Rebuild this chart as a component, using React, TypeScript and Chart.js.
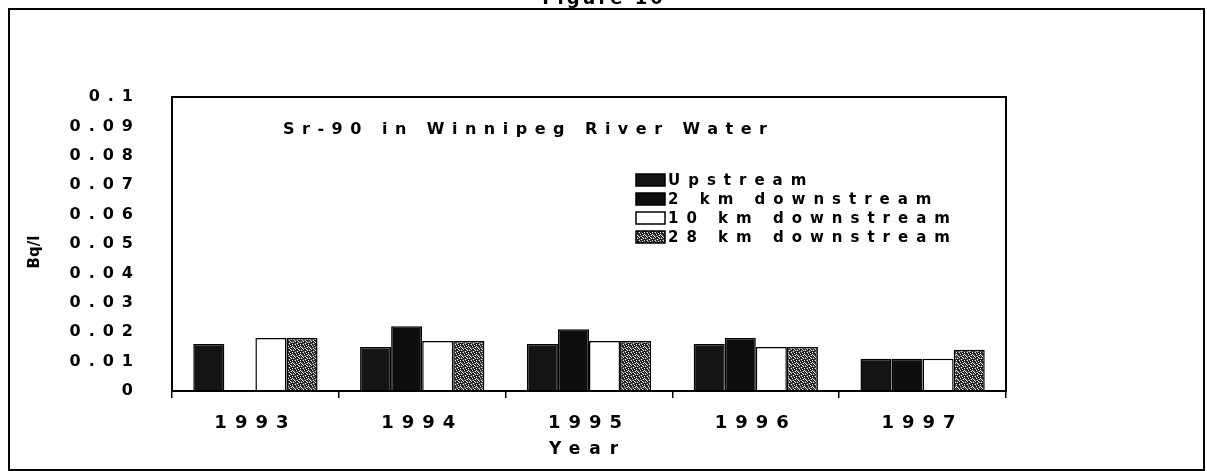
import React, { useEffect, useRef } from 'react';
import { Chart, registerables } from 'chart.js';

Chart.register(...registerables);

const figureLabel = 'Figure 10';
const chartTitle = 'Sr-90 in Winnipeg River Water';
const xAxisTitle = 'Year';
const yAxisTitle = 'Bq/l';
const years = ['1993', '1994', '1995', '1996', '1997'];
const seriesNames = ['Upstream', '2 km downstream', '10 km downstream', '28 km downstream'];
const upstream = [0.016, 0.015, 0.016, 0.016, 0.011];
const km2 = [null, 0.022, 0.021, 0.018, 0.011];
const km10 = [0.018, 0.017, 0.017, 0.015, 0.011];
const km28 = [0.018, 0.017, 0.017, 0.015, 0.014];
const yTickLabels = ['0', '0.01', '0.02', '0.03', '0.04', '0.05', '0.06', '0.07', '0.08', '0.09', '0.1'];

const FONT = '"DejaVu Sans", sans-serif';

function makeSpeckle(): CanvasPattern | string {
  const tile = [
    '21220210',
    '12021221',
    '02210122',
    '21102012',
    '10221201',
    '22012120',
    '21201012',
    '10122221',
  ];
  const colors = ['#e8e8e8', '#5a5a5a', '#1a1a1a'];
  const c = document.createElement('canvas');
  c.width = 8;
  c.height = 8;
  const g = c.getContext('2d');
  if (!g) return '#666';
  for (let y = 0; y < 8; y++) {
    for (let x = 0; x < 8; x++) {
      g.fillStyle = colors[Number(tile[y][x])];
      g.fillRect(x, y, 1, 1);
    }
  }
  return g.createPattern(c, 'repeat') || '#666';
}

export default function App() {
  const ref = useRef<HTMLCanvasElement | null>(null);

  useEffect(() => {
    if (!ref.current) return;
    const speckle = makeSpeckle();

    const decor = {
      id: 'decor',
      beforeDraw(chart: any) {
        chart.ctx.letterSpacing = '8px';
      },
      afterDraw(chart: any) {
        const { ctx, chartArea: a } = chart;
        ctx.save();
        ctx.letterSpacing = '0px';
        ctx.strokeStyle = '#000';
        ctx.lineWidth = 2;
        ctx.strokeRect(a.left, a.top, a.right - a.left, a.bottom - a.top);
        ctx.strokeRect(9, 9, 1195, 461);

        ctx.fillStyle = '#000';
        // figure label (clipped at top)
        ctx.font = `bold 18px ${FONT}`;
        ctx.textAlign = 'center';
        ctx.textBaseline = 'alphabetic';
        ctx.letterSpacing = '3px';
        ctx.fillText(figureLabel, 604, 4);

        // chart title
        ctx.font = `bold 16px ${FONT}`;
        ctx.letterSpacing = '7.5px';
        ctx.textAlign = 'left';
        ctx.textBaseline = 'middle';
        ctx.fillText(chartTitle, 283, 130);

        // legend
        const rows = [180, 199, 218, 237];
        ctx.font = `bold 15px ${FONT}`;
        ctx.letterSpacing = '8px';
        chart.data.datasets.forEach((ds: any, i: number) => {
          const y = rows[i];
          ctx.fillStyle = ds.backgroundColor;
          ctx.fillRect(636, y - 6, 29, 12);
          ctx.strokeStyle = '#000';
          ctx.lineWidth = 1.5;
          ctx.strokeRect(636, y - 6, 29, 12);
          ctx.fillStyle = '#000';
          ctx.fillText(ds.label, 668, y + 1);
        });

        // x title
        ctx.font = `bold 17px ${FONT}`;
        ctx.letterSpacing = '9px';
        ctx.textAlign = 'left';
        ctx.fillText(xAxisTitle, 549, 450);

        // y title
        ctx.letterSpacing = '0px';
        ctx.font = `bold 15px ${FONT}`;
        ctx.translate(35, 252);
        ctx.rotate(-Math.PI / 2);
        ctx.textAlign = 'center';
        ctx.fillText(yAxisTitle, 0, 0);
        ctx.restore();
      },
    };

    const common = {
      borderColor: '#000',
      borderWidth: 1.5,
      categoryPercentage: 0.745,
      barPercentage: 1.0,
    };

    const chart = new Chart(ref.current, {
      type: 'bar',
      data: {
        labels: years,
        datasets: [
          { label: seriesNames[0], data: upstream, backgroundColor: '#141414', ...common },
          { label: seriesNames[1], data: km2, backgroundColor: '#0e0e0e', ...common },
          { label: seriesNames[2], data: km10, backgroundColor: '#ffffff', ...common },
          { label: seriesNames[3], data: km28, backgroundColor: speckle, ...common },
        ],
      } as any,
      options: {
        responsive: false,
        animation: false,
        layout: { padding: { left: 0, top: 97, right: 201, bottom: 0 } },
        plugins: { legend: { display: false }, tooltip: { enabled: false }, title: { display: false } },
        scales: {
          x: {
            afterFit: (s: any) => { s.height = 80; },
            grid: { display: true, drawOnChartArea: false, drawTicks: true, tickLength: 7, color: '#000', lineWidth: 1.5, offset: true },
            border: { display: true, color: '#000', width: 2 },
            ticks: { color: '#000', font: { family: FONT, weight: 'bold', size: 18 }, padding: 15, maxRotation: 0, autoSkip: false },
          },
          y: {
            min: 0,
            max: 0.1,
            afterFit: (s: any) => { s.width = 172; },
            grid: { display: false, drawTicks: false },
            border: { display: true, color: '#000', width: 2 },
            ticks: {
              stepSize: 0.01,
              color: '#000',
              padding: 31,
              font: { family: FONT, weight: 'bold', size: 16 },
              callback: (_v: any, i: number) => yTickLabels[i],
            },
          },
        },
      } as any,
      plugins: [decor],
    });
    return () => chart.destroy();
  }, []);

  return (
    <div style={{ position: 'fixed', left: 0, top: 0, width: 1207, height: 471, background: '#fff' }}>
      <canvas ref={ref} width={1207} height={471} style={{ display: 'block' }} />
    </div>
  );
}
